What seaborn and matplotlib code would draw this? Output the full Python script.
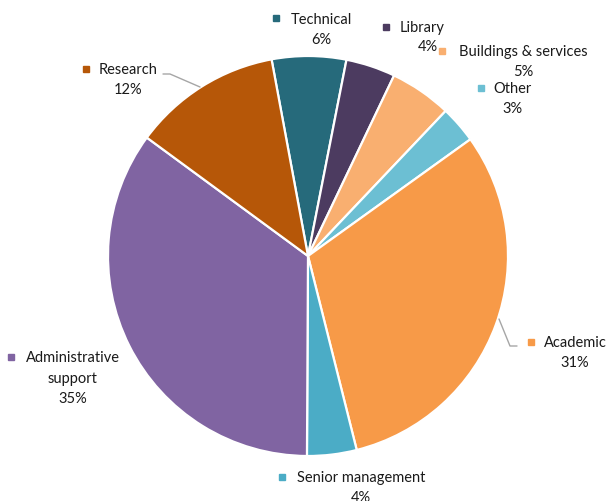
import matplotlib
matplotlib.use("Agg")
import matplotlib.pyplot as plt
import seaborn as sns

# Staff categories, clockwise from the top
categories = ["Technical", "Library", "Buildings & services", "Other",
              "Academic", "Senior management", "Administrative support", "Research"]
shares = [6, 4, 5, 3, 31, 4, 35, 12]
pct_labels = ["6%", "4%", "5%", "3%", "31%", "4%", "35%", "12%"]
colors = ["#266a7b", "#4c3b60", "#f9af70", "#6cbfd3",
          "#f79a48", "#4bacc6", "#8064a2", "#b65708"]

sns.set_theme(style="white")
plt.rcParams["font.family"] = ["Lato", "DejaVu Sans"]

W, H = 610, 502
fig = plt.figure(figsize=(W / 100, H / 100), dpi=100)
ax = fig.add_axes([0, 0, 1, 1])
ax.set_xlim(0, W)
ax.set_ylim(0, H)
ax.set_aspect("equal")
ax.axis("off")

cx, cy, r = 308, H - 257, 200
ax.pie(shares, colors=colors, startangle=100.5, counterclock=False,
       center=(cx, cy), radius=r, frame=True,
       wedgeprops=dict(edgecolor="white", linewidth=1.6))
ax.set_xlim(0, W)
ax.set_ylim(0, H)
ax.axis("off")

def py(y):
    return H - y

# label layout: marker position, text centre, line spacing rows
layout = {
    "Technical": dict(mark=(276, 19), name=(321, 20), lines=["Technical"]),
    "Library": dict(mark=(386, 28), name=(422, 28), lines=["Library"], pct=(428, 47)),
    "Buildings & services": dict(mark=(442, 52), name=(523, 52), lines=["Buildings & services"]),
    "Other": dict(mark=(481, 89), name=(512, 89), lines=["Other"]),
    "Academic": dict(mark=(531, 343), name=(575, 343), lines=["Academic"]),
    "Senior management": dict(mark=(282, 478), name=(361, 478), lines=["Senior management"]),
    "Administrative support": dict(mark=(11, 358), name=(73, 358),
                                   lines=["Administrative", "support"]),
    "Research": dict(mark=(86, 70), name=(128, 70), lines=["Research"]),
}

txt_kw = dict(ha="center", va="center", fontsize=10.5, color="#1a1a1a")
for cat, pct, col in zip(categories, pct_labels, colors):
    L = layout[cat]
    mx, my = L["mark"]
    ax.plot([mx], [py(my)], marker="s", markersize=4.2, color=col,
            linestyle="none")
    tx, ty = L["name"]
    for i, line in enumerate(L["lines"]):
        ax.text(tx, py(ty + 21 * i), line, **txt_kw)
    if "pct" in L:
        px_, py_ = L["pct"]
    else:
        px_, py_ = tx, ty + 21 * len(L["lines"]) - 1
    ax.text(px_, py(py_), pct, **txt_kw)

# leader lines
ax.plot([163, 170, 200], [py(75), py(75), py(88)], color="#a6a6a6", lw=1)
ax.plot([499, 510, 517], [py(320), py(347), py(347)], color="#a6a6a6", lw=1)

fig.savefig("out.png", dpi=100, facecolor="white")
